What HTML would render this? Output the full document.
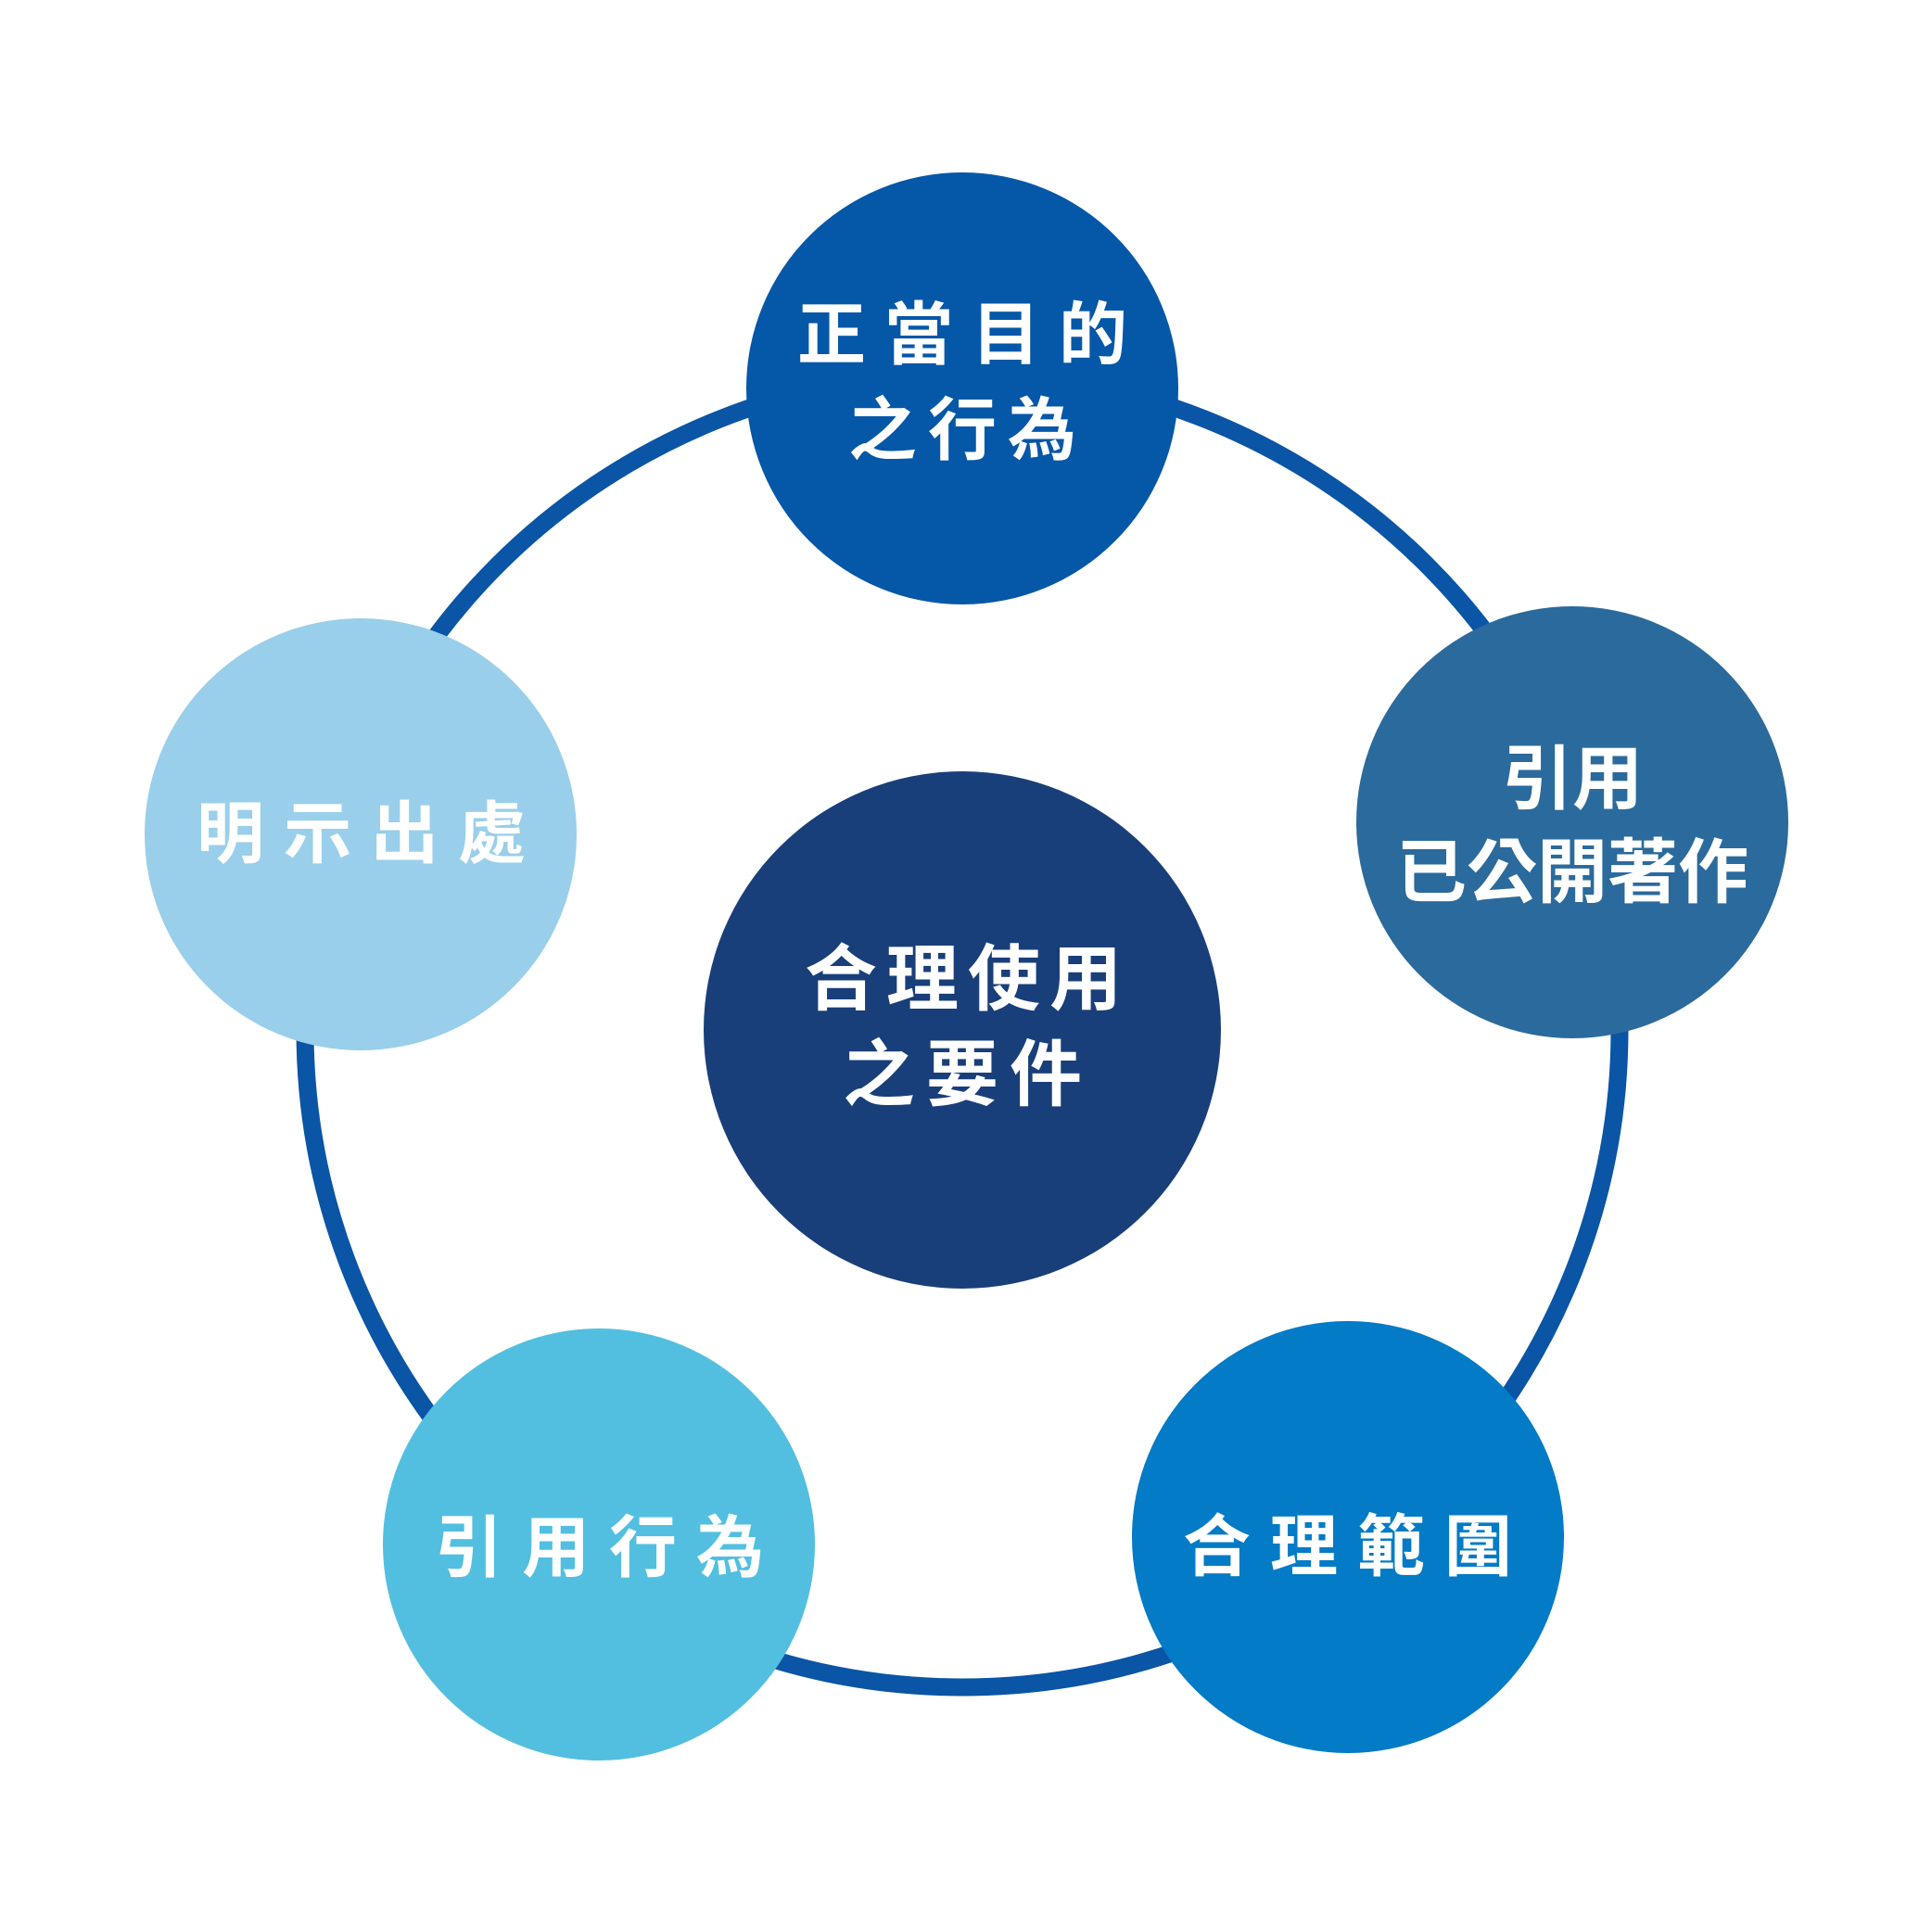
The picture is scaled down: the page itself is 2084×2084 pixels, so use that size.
<!DOCTYPE html>
<html><head><meta charset="utf-8"><style>
html,body{margin:0;padding:0;background:#fff;}
svg{display:block;}
text{font-family:"Liberation Sans","Noto Sans CJK TC",sans-serif;font-weight:bold;fill:#fff;dominant-baseline:central;text-anchor:middle;}
</style></head><body>
<svg width="2084" height="2084" viewBox="0 0 2084 2084" xmlns="http://www.w3.org/2000/svg">
<rect width="2084" height="2084" fill="#fff"/>
<circle cx="1038" cy="1111" r="709" fill="none" stroke="#0a55a5" stroke-width="19"/>
<circle cx="1038" cy="419" r="233" fill="#0557a8"/>
<circle cx="1696" cy="887" r="233" fill="#2b6a9c"/>
<circle cx="1454" cy="1658" r="233" fill="#037bc6"/>
<circle cx="646" cy="1666" r="233" fill="#52bfe0"/>
<circle cx="389" cy="900" r="233" fill="#99cfea"/>
<circle cx="1038" cy="1111" r="279" fill="#193f7a"/>
<text x="1048" y="361" font-size="74" letter-spacing="20">正當目的</text>
<text x="1044" y="464" font-size="74" letter-spacing="12">之行為</text>
<text x="1044" y="1056" font-size="78" letter-spacing="10">合理使用</text>
<text x="1044" y="1159" font-size="78" letter-spacing="12">之要件</text>
<text x="1696" y="841" font-size="76">引用</text>
<text x="1696" y="942" font-size="76">已公開著作</text>
<text x="400" y="900" font-size="73" letter-spacing="21">明示出處</text>
<text x="657" y="1670" font-size="73" letter-spacing="21">引用行為</text>
<text x="1464" y="1669" font-size="73" letter-spacing="21">合理範圍</text>
</svg>
</body></html>
